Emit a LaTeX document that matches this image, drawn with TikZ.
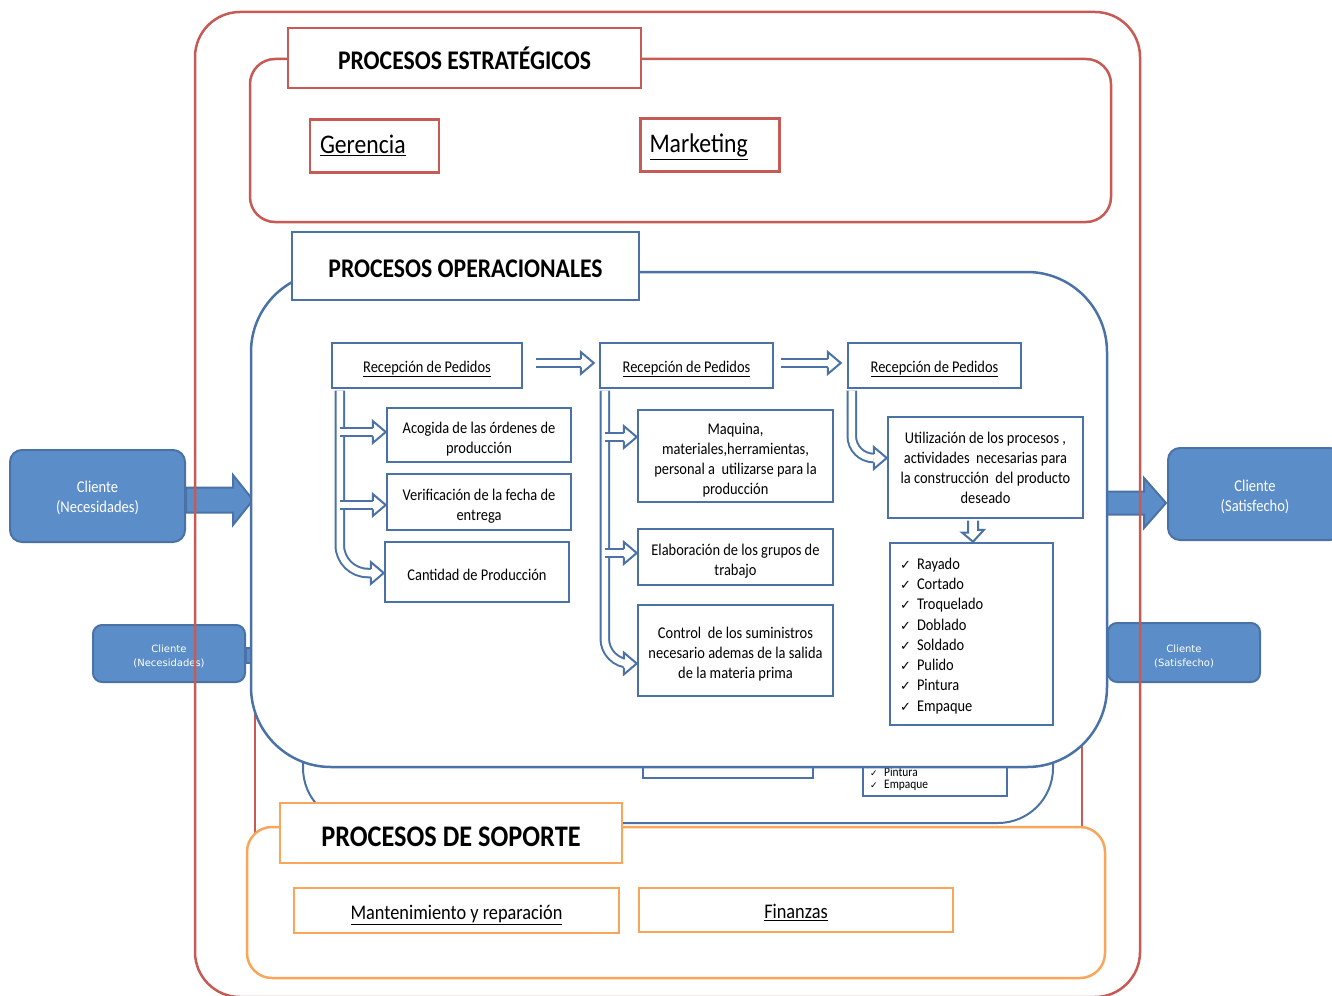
\documentclass[tikz,border=0pt]{standalone}
\usepackage{fontspec}
\setmainfont{Carlito}[FakeStretch=0.88]
\newfontfamily\symfont{DejaVu Sans}
\newfontfamily\gfont{DejaVu Sans}
\usetikzlibrary{positioning}
\definecolor{rojo}{HTML}{C65B55}
\definecolor{azul}{HTML}{4A72A6}
\definecolor{azulcli}{HTML}{5B8EC8}
\definecolor{naranja}{HTML}{F9A65A}
\newcommand{\chk}[1]{\makebox[17pt][l]{\symfont\fontsize{13}{13}\selectfont ✓}#1}
\newcommand{\gchk}[1]{\makebox[14pt][l]{\symfont\fontsize{9}{9}\selectfont ✓}#1}
\tikzset{
  cajanode/.style = {align=center, inner sep=0pt, text centered, fill=white},
  bajar/.style = {execute at begin node={\rule{0pt}{#1}}},
  % caja_E: red box of the strategic part
  caja_E/.style = {cajanode, draw=rojo, line width=2.5pt, font=\fontsize{26.9}{30}\selectfont},
  caja_O/.style = {cajanode, draw=azul, line width=2.5pt, font=\fontsize{16.4}{20}\selectfont},
  caja_S/.style = {cajanode, draw=naranja, line width=2.5pt, font=\fontsize{20.8}{24}\selectfont},
  caja_G/.style = {cajanode, draw=azul, line width=2pt},
  titulo/.style = {font=\fontsize{26.9}{30}\selectfont\bfseries, text height=23pt, text depth=0pt},
  cliente/.style = {cajanode, fill=azulcli, draw=azul, line width=2pt, rounded corners=12pt, text=white,
                    font=\fontsize{16.5}{20}\selectfont},
  cliente_G/.style = {cliente, rounded corners=9pt, font=\gfont\fontsize{10}{14}\selectfont},
  cliflecha/.style = {fill=azulcli, draw=azul, line width=2pt, line join=miter},
  flecha/.style = {draw=azul, line width=2pt, double=white, double distance=6.5pt},
  punta/.style = {draw=azul, line width=2pt, fill=white, line join=miter},
  hdR/.pic = {\filldraw[punta] (-13,4.25) -- (-13,11) -- (0,0) -- (-13,-11) -- (-13,-4.25);}
}

\begin{document}
\begin{tikzpicture}[x=1pt,y=-1pt]
  \useasboundingbox (0,0) rectangle (1332,995);
  % Ghost clients (behind):
  \node[cliente_G, bajar=28pt, minimum width=152pt, minimum height=57pt] (cg1) at (169,653.5) {Cliente\\(Necesidades)};
  \draw[cliflecha] ([yshift=-2pt]cg1.east) ++(0,-7.5) rectangle ++(7,15);
  \node[cliente_G, bajar=29pt, minimum width=152pt, minimum height=59pt] (cg2) at (1184,652.5) {Cliente\\(Satisfecho)};
  % Clients:
  \node[cliente, bajar=36pt, minimum width=175pt, minimum height=92pt] (cl1) at (97.5,496) {Cliente\\(Necesidades)};
  \node[cliente, bajar=38pt, minimum width=174pt, minimum height=92pt] (cl2) at (1255,494) {Cliente\\(Satisfecho)};
  \draw[cliflecha] ([yshift=-4pt]cl1.east) ++(0,-12.5) -- ++(47,0) -- ++(0,-12.5) -- ++(20,25) -- ++(-20,25) -- ++(0,-12.5) -- ++(-47,0) -- cycle;
  \draw[cliflecha] ([xshift=-1pt,yshift=-9pt]cl2.west) -- ++(-22,-25) -- ++(0,13.5) -- ++(-38,0) -- ++(0,23) -- ++(38,0) -- ++(0,13.5) -- cycle;
  % Outer frame:
  \draw[rojo, line width=2.5pt, rounded corners=45pt] (195,12) rectangle (1140,997);
  % Strategic processes:
  \draw[rojo, line width=2.5pt, rounded corners=25pt] (250,59) rectangle (1111,222);
  \node[caja_E, titulo, minimum width=353pt, minimum height=60pt] (estr) at (464.5,58) {PROCESOS ESTRATÉGICOS};
  \node[caja_E, minimum width=129pt, minimum height=53pt, text width=109pt, align=left, text height=21pt, text depth=5pt] (ger) at (374.5,146) {\underline{Gerencia}};
  \node[caja_E, minimum width=139pt, minimum height=53pt, text width=121pt, align=left, text height=21pt, text depth=5pt] (mkt) at (710,145) {\underline{Marketing}};
  % Ghost copy of the operational part:
  \draw[rojo, line width=2.5pt] (255,400) rectangle (1082,900);
  \draw[azul, line width=2pt, fill=white, rounded corners=55pt] (303,500) rectangle (1053,823);
  \node[caja_G, minimum width=170pt, minimum height=76pt] (gb) at (728,740) {};
  \node[caja_G, minimum width=144pt, minimum height=146pt] (gchk) at (935,723) {};
  \node[anchor=south west, align=left, inner sep=0pt, font=\fontsize{13}{12.5}\selectfont] (gitems) at ([xshift=8pt,yshift=6pt]gchk.south west) {\gchk{Pintura}\\\gchk{Empaque}};
  % Operational processes:
  \draw[azul, line width=2.5pt, fill=white, rounded corners=80pt] (251,272) rectangle (1107,767);
  \node[caja_O, titulo, minimum width=347pt, minimum height=68pt] (oper) at (465.5,266) {PROCESOS OPERACIONALES};
  % Layer 1 - first column:
  \node[caja_O, minimum width=190pt, minimum height=45pt, text height=17pt, text depth=3pt] (rp1) at (427,365.5) {\underline{Recepción de Pedidos}};
  \node[caja_O, bajar=39pt, minimum width=184pt, minimum height=54pt] (b11) at (479,435) {Acogida de las órdenes de\\producción};
  \node[caja_O, bajar=39pt, minimum width=184pt, minimum height=56pt] (b12) at (479,502) {Verificación de la fecha de\\entrega};
  \node[caja_O, bajar=18pt, minimum width=184pt, minimum height=60pt] (b13) at (477,572) {Cantidad de Producción};
  % Layer 2 - second column:
  \node[caja_O, minimum width=173pt, minimum height=45pt, text height=17pt, text depth=3pt] (rp2) at (686.5,365.5) {\underline{Recepción de Pedidos}};
  \node[caja_O, bajar=79pt, minimum width=195pt, minimum height=92pt] (b21) at (735.5,456) {Maquina,\\materiales,herramientas,\\personal a~ utilizarse para la\\producción};
  \node[caja_O, bajar=40pt, minimum width=195pt, minimum height=56pt] (b22) at (735.5,557) {Elaboración de los grupos de\\trabajo};
  \node[caja_O, bajar=59pt, minimum width=195pt, minimum height=91pt] (b23) at (735.5,650.5) {Control~ de los suministros\\necesario ademas de la salida\\de la materia prima};
  % Layer 3 - third column:
  \node[caja_O, minimum width=173pt, minimum height=45pt, text height=17pt, text depth=3pt] (rp3) at (934.5,365.5) {\underline{Recepción de Pedidos}};
  \node[caja_O, bajar=73pt, minimum width=195pt, minimum height=101pt] (b31) at (985.5,467.5) {Utilización de los procesos ,\\actividades~ necesarias para\\la construcción~ del producto\\deseado};
  \node[caja_O, bajar=15pt, font=\fontsize{16.4}{20.3}\selectfont, minimum width=163pt, minimum height=182pt, text width=143pt, align=left] (b32) at (971.5,634) {\chk{Rayado}\\\chk{Cortado}\\\chk{Troquelado}\\\chk{Doblado}\\\chk{Soldado}\\\chk{Pulido}\\\chk{Pintura}\\\chk{Empaque}};
  % Arrows between the columns:
  \draw[flecha] ([xshift=13pt,yshift=2.5pt]rp1.east) -- ([xshift=-18pt,yshift=2.5pt]rp2.west);
  \pic at ([xshift=-5pt,yshift=2.5pt]rp2.west) {hdR};
  \draw[flecha] ([xshift=7pt,yshift=2.5pt]rp2.east) -- ([xshift=-19pt,yshift=2.5pt]rp3.west);
  \pic at ([xshift=-6pt,yshift=2.5pt]rp3.west) {hdR};
  % Branches of the first column:
  \coordinate (bus1) at ([xshift=9pt,yshift=-1.25pt]rp1.south west);
  \coordinate (t11) at ([yshift=3pt]b11.west);
  \coordinate (t12) at ([yshift=-3pt]b12.west);
  \coordinate (t13) at ([yshift=-1pt]b13.west);
  \draw[flecha, rounded corners=28pt] (bus1) |- ([xshift=-13pt]t13);
  \pic at (t13) {hdR};
  \draw[flecha] (bus1 |- t11) -- ([xshift=-13pt]t11);
  \pic at (t11) {hdR};
  \draw[flecha] (bus1 |- t12) -- ([xshift=-13pt]t12);
  \pic at (t12) {hdR};
  % Branches of the second column:
  \coordinate (bus2) at ([xshift=6pt,yshift=-1.25pt]rp2.south west);
  \coordinate (t21) at ([yshift=19pt]b21.west);
  \coordinate (t22) at ([yshift=4pt]b22.west);
  \coordinate (t23) at ([yshift=-13pt]b23.west);
  \draw[flecha, rounded corners=25pt] (bus2) |- ([xshift=-13pt]t23);
  \pic at (t23) {hdR};
  \draw[flecha] (bus2 |- t21) -- ([xshift=-13pt]t21);
  \pic at (t21) {hdR};
  \draw[flecha] (bus2 |- t22) -- ([xshift=-13pt]t22);
  \pic at (t22) {hdR};
  % Branch of the third column:
  \coordinate (bus3) at ([xshift=5pt,yshift=-1.25pt]rp3.south west);
  \coordinate (t31) at ([yshift=9.5pt]b31.west);
  \draw[flecha, rounded corners=22pt] (bus3) |- ([xshift=-13pt]t31);
  \pic at (t31) {hdR};
  % down arrow to the list:
  \draw[punta] ([xshift=-17.5pt,yshift=-1.25pt]b31.south) -- ++(0,12) -- ++(-6,0) -- ([xshift=1.5pt]b32.north) -- ++(11,-12) -- ++(-6,0) -- ([xshift=-7.5pt,yshift=-1.25pt]b31.south);
  % Support processes:
  \draw[naranja, line width=2.5pt, fill=white, rounded corners=25pt] (247,827) rectangle (1105,978);
  \node[caja_S, font=\fontsize{29.9}{32}\selectfont\bfseries, text height=27pt, text depth=0pt, minimum width=342pt, minimum height=60pt] (sop) at (451,833) {PROCESOS DE SOPORTE};
  \node[caja_S, minimum width=325pt, minimum height=45pt, text height=20pt, text depth=3pt] (mant) at (456.5,910.5) {\underline{Mantenimiento y reparación}};
  \node[caja_S, minimum width=314pt, minimum height=44pt, text height=20pt, text depth=3pt] (fin) at (796,910) {\underline{Finanzas}};
\end{tikzpicture}
\end{document}
